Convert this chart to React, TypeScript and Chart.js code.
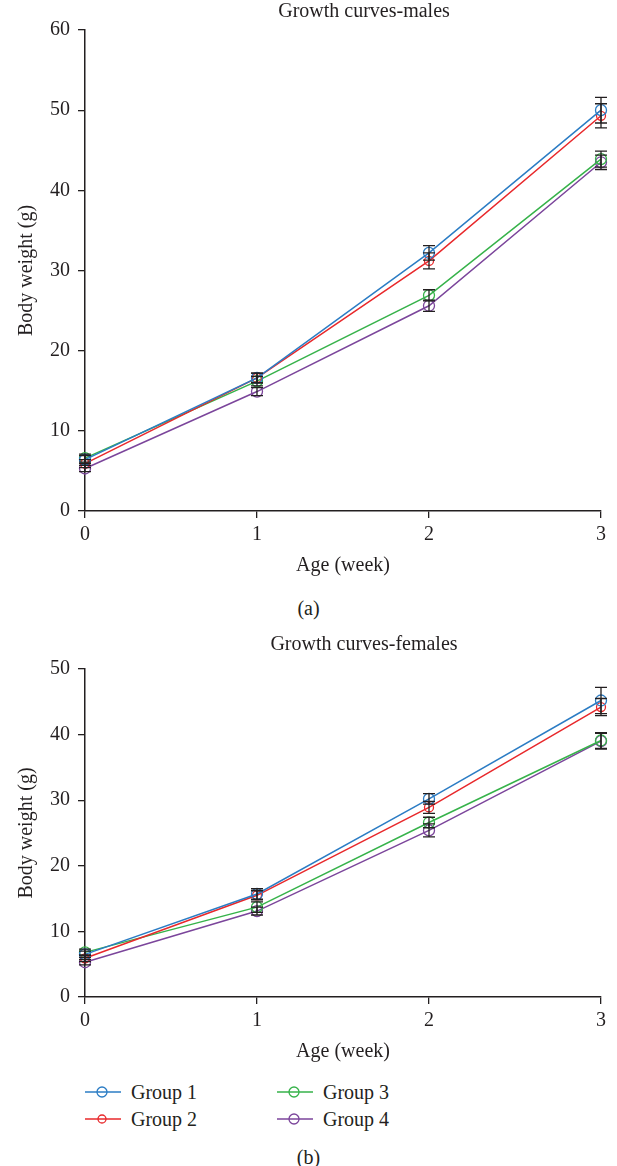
import React, { useEffect, useRef } from "react";
import { Chart, registerables } from "chart.js";

Chart.register(...registerables);

const FONT = "'Liberation Serif', 'DejaVu Serif', serif";
const INK = "#231f20";

// ---- data ----
const weeks = ["0", "1", "2", "3"];
const groupNames = ["Group 1", "Group 2", "Group 3", "Group 4"];
const groupColors = ["#2b7cc4", "#e8282b", "#36b24a", "#7b459b"];
const groupRadii = [5.5, 4.5, 5.5, 5.5];

const maleG1 = [6.4, 16.6, 32.2, 50.0];
const maleG2 = [5.9, 16.6, 31.2, 49.3];
const maleG3 = [6.6, 16.2, 26.9, 43.9];
const maleG4 = [5.3, 14.9, 25.6, 43.5];
const maleErr1 = [0.5, 0.6, 0.9, 1.6];
const maleErr2 = [0.5, 0.6, 1.0, 1.5];
const maleErr3 = [0.5, 0.6, 0.7, 1.0];
const maleErr4 = [0.4, 0.5, 0.7, 0.9];

const femaleG1 = [6.5, 15.7, 30.2, 45.2];
const femaleG2 = [5.9, 15.5, 28.9, 44.2];
const femaleG3 = [6.8, 13.7, 26.6, 39.1];
const femaleG4 = [5.3, 13.1, 25.4, 39.0];
const femaleErr1 = [0.5, 0.8, 0.8, 2.0];
const femaleErr2 = [0.5, 0.7, 0.9, 1.3];
const femaleErr3 = [0.5, 0.8, 0.8, 1.2];
const femaleErr4 = [0.4, 0.6, 1.0, 1.2];

const maleTicksMax = 60;
const femaleTicksMax = 50;

// ---- plugins ----
const panelTitlePlugin = {
  id: "panelTitle",
  afterDraw(chart: any, _args: any, opts: any) {
    if (!opts || !opts.text) return;
    const ctx = chart.ctx;
    ctx.save();
    ctx.font = `20px ${FONT}`;
    ctx.fillStyle = INK;
    ctx.textAlign = "center";
    ctx.textBaseline = "middle";
    ctx.fillText(opts.text, opts.x, opts.y);
    ctx.restore();
  },
};

const errorBarPlugin = {
  id: "errorBars",
  afterDatasetsDraw(chart: any) {
    const ctx = chart.ctx;
    const ys = chart.scales.y;
    chart.data.datasets.forEach((ds: any, i: number) => {
      const meta = chart.getDatasetMeta(i);
      const errs: number[] = ds.errors || [];
      meta.data.forEach((pt: any, j: number) => {
        const v = ds.data[j];
        const e = errs[j];
        if (e == null) return;
        const x = pt.x;
        const yTop = ys.getPixelForValue(v + e);
        const yBot = ys.getPixelForValue(v - e);
        ctx.save();
        ctx.strokeStyle = INK;
        ctx.lineWidth = 1.3;
        ctx.beginPath();
        ctx.moveTo(x, yTop);
        ctx.lineTo(x, yBot);
        ctx.moveTo(x - 6, yTop);
        ctx.lineTo(x + 6, yTop);
        ctx.moveTo(x - 6, yBot);
        ctx.lineTo(x + 6, yBot);
        ctx.stroke();
        ctx.restore();
      });
    });
  },
};

type PanelProps = {
  top: number;
  height: number;
  padTop: number;
  titleText: string;
  titleX: number;
  titleY: number;
  plotBottom: number; // relative to canvas
  xTitlePadBottom: number;
  yMax: number;
  series: number[][];
  errors: number[][];
};

function Panel(p: PanelProps) {
  const ref = useRef<HTMLCanvasElement | null>(null);
  useEffect(() => {
    if (!ref.current) return;
    const tickFont = { family: FONT, size: 20 };
    const chart = new Chart(ref.current, {
      type: "line",
      data: {
        labels: weeks,
        datasets: p.series.map((s, i) => ({
          label: groupNames[i],
          data: s,
          errors: p.errors[i],
          borderColor: groupColors[i],
          backgroundColor: "rgba(0,0,0,0)",
          borderWidth: 1.5,
          pointRadius: groupRadii[i],
          pointBorderWidth: 1.3,
          pointBorderColor: groupColors[i],
          pointBackgroundColor: "rgba(0,0,0,0)",
          tension: 0,
          clip: false,
        })) as any,
      },
      options: {
        responsive: false,
        animation: false,
        devicePixelRatio: 1,
        layout: { padding: { top: p.padTop, right: 16, left: 0, bottom: 0 } },
        plugins: {
          legend: { display: false },
          tooltip: { enabled: false },
          title: { display: false },
          panelTitle: { text: p.titleText, x: p.titleX, y: p.titleY },
        } as any,
        scales: {
          x: {
            type: "category",
            offset: false,
            grid: {
              display: true,
              drawOnChartArea: false,
              drawTicks: true,
              tickLength: 7,
              color: INK,
              lineWidth: 1.3,
            },
            border: { display: true, color: INK, width: 1.5 },
            ticks: { color: INK, font: tickFont, padding: 5, maxRotation: 0 },
            title: {
              display: true,
              text: "Age (week)",
              color: INK,
              font: tickFont,
              padding: { top: 0, bottom: p.xTitlePadBottom },
            },
            afterFit: (scale: any) => {
              scale.height = p.height - p.plotBottom;
            },
          },
          y: {
            min: 0,
            max: p.yMax,
            grid: {
              display: true,
              drawOnChartArea: false,
              drawTicks: true,
              tickLength: 7,
              color: INK,
              lineWidth: 1.3,
            },
            border: { display: true, color: INK, width: 1.5 },
            ticks: { color: INK, font: tickFont, stepSize: 10, padding: 8 },
            title: {
              display: true,
              text: "Body weight (g)",
              color: INK,
              font: tickFont,
              padding: { top: 15, bottom: 0 },
            },
            afterFit: (scale: any) => {
              scale.width = 85;
            },
          },
        },
      } as any,
      plugins: [panelTitlePlugin, errorBarPlugin],
    });
    return () => chart.destroy();
  }, []);
  return (
    <canvas
      ref={ref}
      width={617}
      height={p.height}
      style={{ position: "absolute", left: 0, top: p.top, width: 617, height: p.height }}
    />
  );
}

function LegendItem({ name, color, radius, left, cy }: { name: string; color: string; radius: number; left: number; cy: number }) {
  return (
    <div style={{ position: "absolute", left, top: cy - 12, height: 24, display: "flex", alignItems: "center" }}>
      <svg width={36} height={14} style={{ display: "block" }}>
        <line x1={0} y1={7} x2={36} y2={7} stroke={color} strokeWidth={1.5} />
        <circle cx={17} cy={7} r={radius} fill="none" stroke={color} strokeWidth={1.3} />
      </svg>
      <span style={{ marginLeft: 10, font: `20px ${FONT}`, color: INK, lineHeight: "24px", whiteSpace: "nowrap" }}>{name}</span>
    </div>
  );
}

export default function App() {
  const caption = (text: string, cy: number) => (
    <div
      style={{
        position: "absolute",
        left: 0,
        top: cy - 12,
        width: 617,
        textAlign: "center",
        font: `20px ${FONT}`,
        lineHeight: "24px",
        color: INK,
      }}
    >
      {text}
    </div>
  );
  return (
    <div style={{ position: "absolute", left: 0, top: 0, width: 617, height: 1166, background: "#fff", overflow: "hidden" }}>
      <Panel
        top={0}
        height={585}
        padTop={30}
        titleText="Growth curves-males"
        titleX={364}
        titleY={12}
        plotBottom={511}
        xTitlePadBottom={7}
        yMax={maleTicksMax}
        series={[maleG1, maleG2, maleG3, maleG4]}
        errors={[maleErr1, maleErr2, maleErr3, maleErr4]}
      />
      {caption("(a)", 608)}
      <Panel
        top={625}
        height={450}
        padTop={44}
        titleText="Growth curves-females"
        titleX={364}
        titleY={20}
        plotBottom={372}
        xTitlePadBottom={11}
        yMax={femaleTicksMax}
        series={[femaleG1, femaleG2, femaleG3, femaleG4]}
        errors={[femaleErr1, femaleErr2, femaleErr3, femaleErr4]}
      />
      <LegendItem name={groupNames[0]} color={groupColors[0]} radius={5} left={85} cy={1092} />
      <LegendItem name={groupNames[1]} color={groupColors[1]} radius={4} left={85} cy={1119} />
      <LegendItem name={groupNames[2]} color={groupColors[2]} radius={5} left={277} cy={1092} />
      <LegendItem name={groupNames[3]} color={groupColors[3]} radius={5} left={277} cy={1119} />
      {caption("(b)", 1157)}
    </div>
  );
}
